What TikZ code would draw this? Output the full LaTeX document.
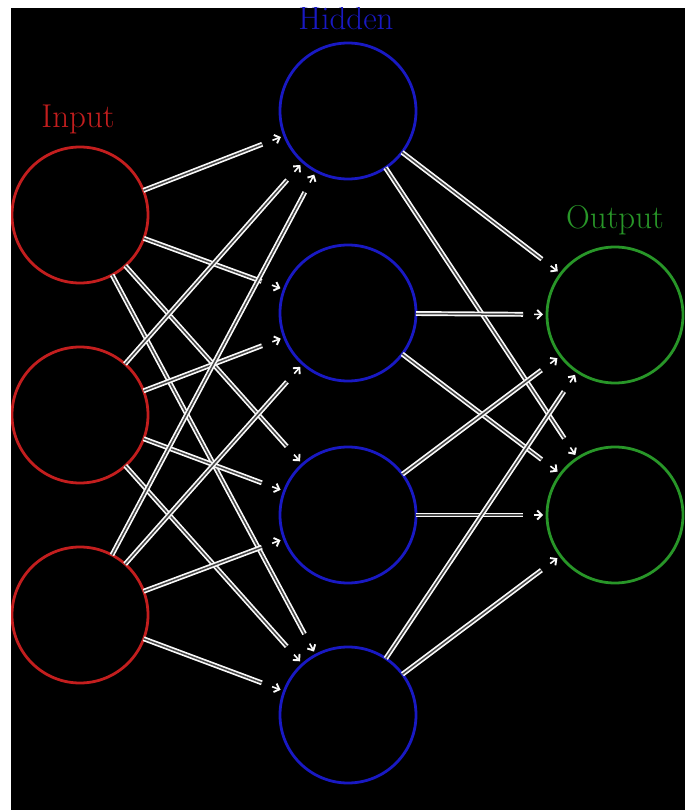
\documentclass[tikz,border=0pt]{standalone}
\usetikzlibrary{calc,arrows.meta}

\definecolor{inred}{RGB}{195,30,30}
\definecolor{hidblue}{RGB}{25,25,195}
\definecolor{outgreen}{RGB}{40,150,40}

\tikzset{
  neuron/.style={circle, minimum size=136pt, inner sep=0pt, line width=2.8pt},
  layerlabel/.style={anchor=base, inner sep=0pt, font=\fontsize{33}{36}\selectfont},
  link/.style={draw=white!95!gray, double=gray!55!black, double distance=1.5pt, line width=1.7pt},
  linktip/.style={draw=white!95!gray, line width=1.6pt, -{Straight Barb[length=4.5pt,width=9pt,line width=1.9pt]}}
}

% one connection: double line from the boundary of #1, detached arrow tip near #2
\newcommand{\linkto}[2]{%
  \draw[link] ($(#1)!68pt!(#2)$) -- ($(#2)!92pt!(#1)$);
  \draw[linktip] ($(#2)!81pt!(#1)$) -- ($(#2)!72pt!(#1)$);
}

\begin{document}
\begin{tikzpicture}[x=1pt,y=-1pt]
  \useasboundingbox (0,0) rectangle (688,810);
  \fill[white] (0,0) rectangle (688,810);
  \fill[black] (11,8) rectangle (685,810);
  \begin{scope}
    \clip (11,8) rectangle (685,810);

    % layers
    \node[neuron, draw=inred] (i1) at (80,215) {};
    \node[neuron, draw=inred] (i2) at (80,415) {};
    \node[neuron, draw=inred] (i3) at (80,615) {};

    \node[neuron, draw=hidblue] (h1) at (348,111) {};
    \node[neuron, draw=hidblue] (h2) at (348,313) {};
    \node[neuron, draw=hidblue] (h3) at (348,515) {};
    \node[neuron, draw=hidblue] (h4) at (348,715) {};

    \node[neuron, draw=outgreen] (o1) at (615,315) {};
    \node[neuron, draw=outgreen] (o2) at (615,515) {};

    % labels
    \node[layerlabel, text=inred] (linput) at (78,128) {Input};
    \node[layerlabel, text=hidblue] (lhidden) at (346,30) {Hidden};
    \node[layerlabel, text=outgreen] (loutput) at (615,229) {Output};

    % input -> hidden
    \foreach \a in {i1,i2,i3}{
      \foreach \b in {h1,h2,h3,h4}{
        \linkto{\a}{\b}
      }
    }
    % hidden -> output
    \foreach \a in {h1,h2,h3,h4}{
      \foreach \b in {o1,o2}{
        \linkto{\a}{\b}
      }
    }
  \end{scope}
\end{tikzpicture}
\end{document}
